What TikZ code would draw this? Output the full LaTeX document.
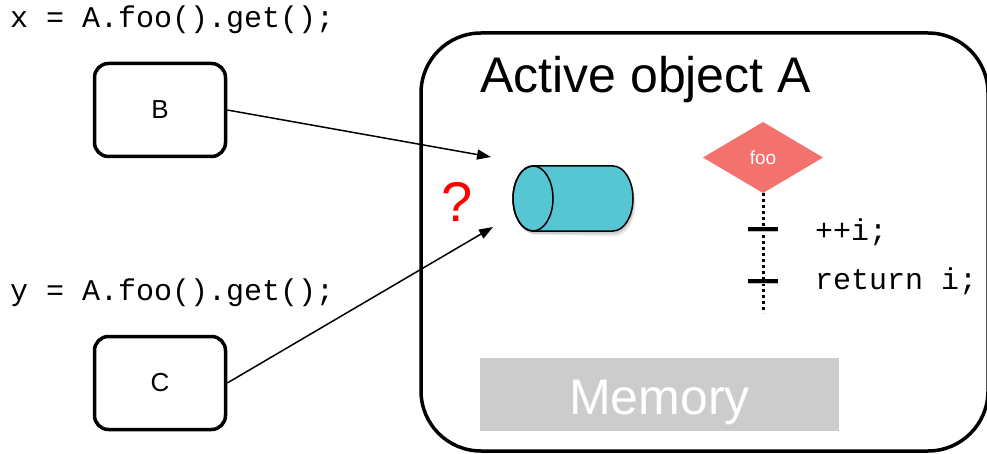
\documentclass[tikz,border=0pt]{standalone}
\usepackage{fontspec}
\setmainfont{Liberation Sans}
\newfontfamily\codefont{Liberation Mono}
\newfontfamily\labelfont{Liberation Sans}
\usetikzlibrary{arrows.meta}

\definecolor{cylteal}{RGB}{86,198,210}
\definecolor{foosalmon}{RGB}{244,114,110}
\definecolor{memgray}{RGB}{204,204,204}

\tikzset{
  caller/.style={draw, line width=3.5pt, rounded corners=14pt,
    minimum width=131pt, minimum height=93pt, inner sep=0pt,
    font=\labelfont\fontsize{26}{30}\selectfont},
  code/.style={anchor=base west, inner sep=0pt,
    font=\codefont\fontsize{30}{34}\selectfont},
  request/.style={line width=1.5pt, -{Triangle[length=14pt,width=10pt]}},
  tick/.style={line width=4pt},
}

\begin{document}
\begin{tikzpicture}[x=1pt,y=1pt]
\useasboundingbox (0,0) rectangle (987,453);

% callers and their calls
\node[code] (xcall) at (10,425) {x = A.foo().get();};
\node[code] (ycall) at (10,153) {y = A.foo().get();};
\node[caller] (B) at (160,343) {B};
\node[caller] (C) at (160,70) {C};

% the active object
\draw[line width=3.5pt, rounded corners=60pt] (421,2) rectangle (988,420);
\node[anchor=base west, inner sep=0pt, font=\labelfont\fontsize{50}{56}\selectfont]
  (title) at (480,360) {Active object A};

% request queue (cylinder with soft shadow)
\begin{scope}[shift={(1.5,-3)}]
  \fill[black, opacity=0.08] (533,286.5) -- (613,286.5)
    arc[start angle=90, end angle=-90, x radius=21, y radius=33.5]
    -- (533,221.5) arc[start angle=270, end angle=90, x radius=21, y radius=33.5] -- cycle;
  \fill[black, opacity=0.12] (533,287) -- (613,287)
    arc[start angle=90, end angle=-90, x radius=20, y radius=32.5]
    -- (533,222) arc[start angle=270, end angle=90, x radius=20, y radius=32.5] -- cycle;
\end{scope}
\draw[line width=1.5pt, fill=cylteal] (533,287) -- (613,287)
  arc[start angle=90, end angle=-90, x radius=20, y radius=32.5]
  -- (533,222) arc[start angle=270, end angle=90, x radius=20, y radius=32.5] -- cycle;
\draw[line width=1.5pt] (533,254.5) ellipse[x radius=20, y radius=32.5];
\coordinate (queue) at (573,254.5);

\node[text=red, anchor=base, inner sep=0pt, font=\labelfont\fontsize{56}{60}\selectfont]
  (unknown) at (457,232) {?};

% incoming requests
\coordinate (tipB) at (491,296);
\coordinate (tipC) at (493,226);
\draw[request] (B.east) -- (tipB);
\draw[request] (C.east) -- (tipC);

% method foo and its execution line
\path[fill=foosalmon] (703,295.5) -- (763,331) -- (823,295.5) -- (763,260) -- cycle;
\node[text=white, font=\labelfont\fontsize{19}{22}\selectfont] (foo) at (763,295.5) {foo};
\coordinate (lineTop) at (763,260);
\coordinate (lineEnd) at (763,140);
\draw[line width=3pt, dash pattern=on 3.3pt off 2.7pt] (lineTop) -- (lineEnd);
\draw[tick, black!25] (748,223) -- (778,223);
\draw[tick, black!25] (748,171) -- (778,171);
\draw[tick] (748,224) -- (778,224);
\draw[tick] (748,172) -- (778,172);
\node[code] (stepA) at (815,213) {++i;};
\node[code] (stepB) at (815,164) {return i;};

% memory
\fill[memgray] (480,22) rectangle (839,95);
\node[text=white, anchor=base, inner sep=0pt, font=\labelfont\fontsize{50}{56}\selectfont]
  (mem) at (659.5,39) {Memory};
\end{tikzpicture}
\end{document}
